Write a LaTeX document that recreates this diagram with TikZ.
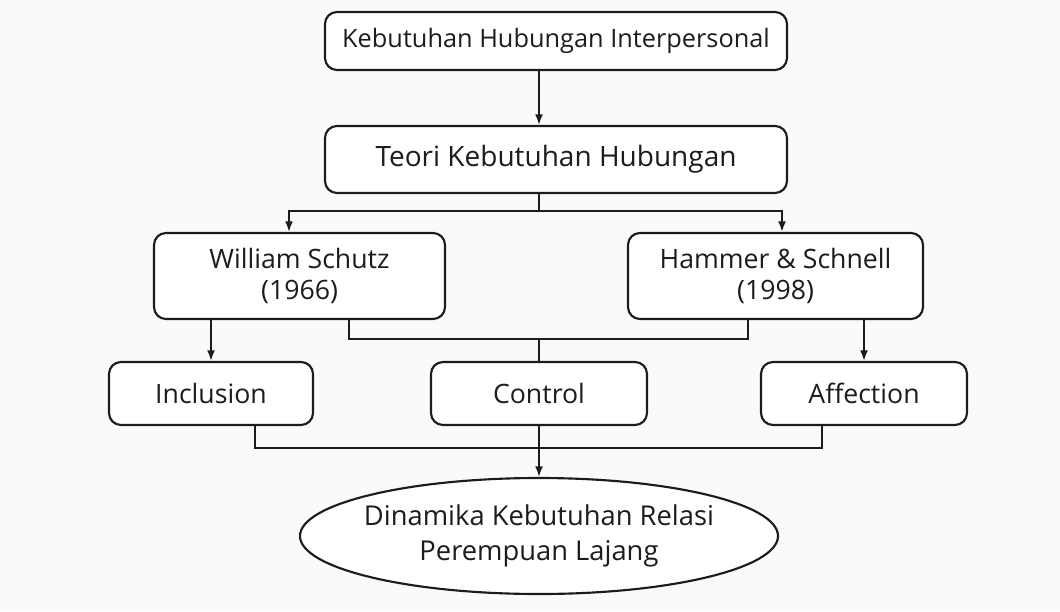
\documentclass[tikz,border=0pt]{standalone}
\usepackage{fontspec}
\setmainfont{Open Sans}
\usetikzlibrary{arrows.meta}
\usetikzlibrary{shapes.geometric}

\definecolor{paper}{RGB}{250,250,250}
\definecolor{ink}{RGB}{28,28,28}

\tikzset{
  box/.style={draw=ink, text=ink, fill=white, line width=1.6pt, rounded corners=9pt,
    inner sep=0pt, align=center},
  goalbox/.style={draw=ink, text=ink, fill=white, line width=1.6pt, ellipse,
    inner xsep=-10pt, inner ysep=0pt, align=center},
  link/.style={draw=ink, line width=1.4pt},
  arr/.style={link, -{Latex[length=8pt,width=6pt]}}
}

\begin{document}
\begin{tikzpicture}[x=0.75pt,y=-0.75pt]
\fill[paper] (0,0) rectangle (1060,611);
\useasboundingbox (0,0) rectangle (1060,611);

% boxes
\node[box, minimum width=346.5pt, minimum height=43.5pt, font=\fontsize{19}{23}\selectfont]
  (need) at (556,41) {Kebutuhan Hubungan Interpersonal};
\node[box, minimum width=346.5pt, minimum height=50.25pt, font=\fontsize{21}{25}\selectfont]
  (theory) at (556,159.5) {Teori Kebutuhan Hubungan};
\node[box, minimum width=218.25pt, minimum height=64.5pt, font=\fontsize{20}{23}\selectfont]
  (schutz) at (299.5,276) {William Schutz\\(1966)};
\node[box, minimum width=221.25pt, minimum height=64.5pt, font=\fontsize{20}{23}\selectfont]
  (hammer) at (775.5,276) {Hammer \& Schnell\\(1998)};
\node[box, minimum width=153pt, minimum height=47.25pt, font=\fontsize{20}{24}\selectfont]
  (inclusion) at (211,393.5) {Inclusion};
\node[box, minimum width=162pt, minimum height=47.25pt, font=\fontsize{20}{24}\selectfont]
  (control) at (539,393.5) {Control};
\node[box, minimum width=154.5pt, minimum height=47.25pt, font=\fontsize{20}{24}\selectfont]
  (affection) at (864,393.5) {Affection};
\node[goalbox, minimum width=358.5pt, minimum height=87pt, font=\fontsize{20.5}{26}\selectfont]
  (goal) at (539,536) {Dinamika Kebutuhan Relasi\\Perempuan Lajang};

% junctions
\coordinate (fork) at (539,211);
\coordinate (midA) at (539,339);
\coordinate (midB) at (539,448);

% connectors
\draw[arr] (need.south -| fork) -- (theory.north -| fork);
\draw[link] (theory.south -| fork) -- (fork);
\draw[arr] (fork) -| (289,0 |- schutz.north);
\draw[arr] (fork) -| (782,0 |- hammer.north);
\draw[arr] (schutz.south -| inclusion.north) -- (inclusion.north);
\draw[arr] (hammer.south -| affection.north) -- (affection.north);
\draw[link] (349,0 |- schutz.south) |- (midA) -| (748,0 |- hammer.south);
\draw[link] (midA) -- (control.north);
\draw[link] (255,0 |- inclusion.south) |- (midB) -| (822,0 |- affection.south);
\draw[arr] (control.south) -- (goal.north);
\end{tikzpicture}
\end{document}
